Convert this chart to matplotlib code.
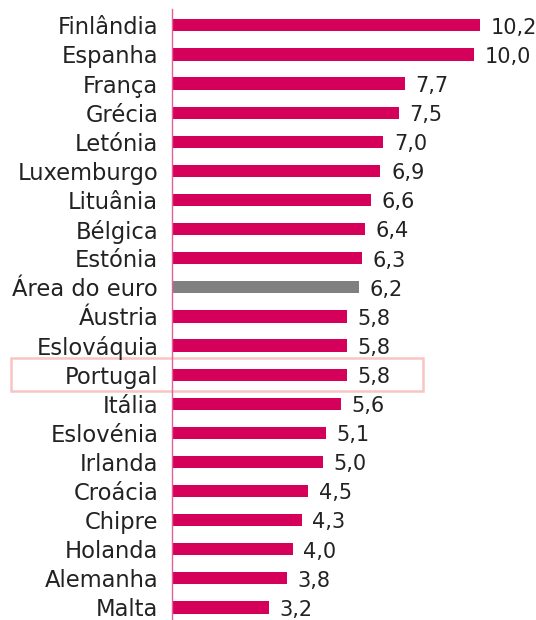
import matplotlib
matplotlib.use('Agg')
import matplotlib.pyplot as plt
from matplotlib.patches import Rectangle

countries = ['Finlândia', 'Espanha', 'França', 'Grécia', 'Letónia', 'Luxemburgo',
             'Lituânia', 'Bélgica', 'Estónia', 'Área do euro', 'Áustria', 'Eslováquia',
             'Portugal', 'Itália', 'Eslovénia', 'Irlanda', 'Croácia', 'Chipre',
             'Holanda', 'Alemanha', 'Malta']
values = [10.2, 10.0, 7.7, 7.5, 7.0, 6.9, 6.6, 6.4, 6.3, 6.2, 5.8, 5.8,
          5.8, 5.6, 5.1, 5.0, 4.5, 4.3, 4.0, 3.8, 3.2]
labels = ['10,2', '10,0', '7,7', '7,5', '7,0', '6,9', '6,6', '6,4', '6,3', '6,2', '5,8', '5,8',
          '5,8', '5,6', '5,1', '5,0', '4,5', '4,3', '4,0', '3,8', '3,2']

magenta = '#D4005A'
grey = '#808080'
colors = [grey if c == 'Área do euro' else magenta for c in countries]

plt.rcParams['font.family'] = ['DejaVu Sans']

fig = plt.figure(figsize=(5.36, 6.20), dpi=100)
ax = fig.add_axes([0.321, 0.0, 0.679, 1.0])

pos = list(range(len(countries)))
ax.barh(pos, values, height=0.42, color=colors)

for i, (v, lab) in enumerate(zip(values, labels)):
    ax.text(v + 0.35, i + 0.08, lab, va='center', ha='left', fontsize=15, color='#222222')

ax.set_xlim(0, 12.05)
ax.set_ylim(20.43, -0.87)
ax.set_yticks(pos)
ax.set_yticklabels(countries, fontsize=16.3, color='#222222')
ax.tick_params(axis='y', length=0, pad=10)
ax.set_xticks([])

for s in ['top', 'right', 'bottom']:
    ax.spines[s].set_visible(False)
ax.spines['left'].set_color('#E0609A')
ax.spines['left'].set_linewidth(1.0)
ax.spines['left'].set_bounds(-0.55, 20.43)

# highlight box around Portugal
pi = countries.index('Portugal')
box = Rectangle((-5.33, pi - 0.57), 13.64, 1.14, fill=False, edgecolor='#F8C4C4',
                linewidth=1.8, clip_on=False)
ax.add_patch(box)

fig.savefig('out.png', dpi=100)
